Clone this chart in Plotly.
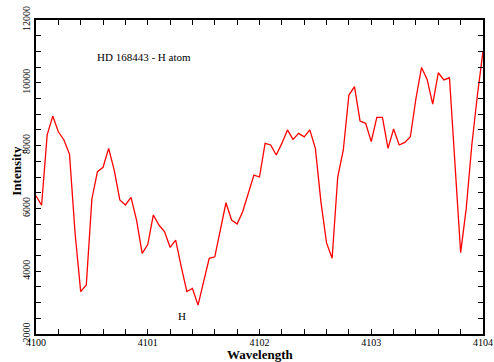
import plotly.graph_objects as go

wavelength = [
    4100.00, 4100.05, 4100.10, 4100.15, 4100.20, 4100.25, 4100.30, 4100.35, 4100.40, 4100.45,
    4100.50, 4100.55, 4100.60, 4100.65, 4100.70, 4100.75, 4100.80, 4100.85, 4100.90, 4100.95,
    4101.00, 4101.05, 4101.10, 4101.15, 4101.20, 4101.25, 4101.30, 4101.35, 4101.40, 4101.45,
    4101.50, 4101.55, 4101.60, 4101.65, 4101.70, 4101.75, 4101.80, 4101.85, 4101.90, 4101.95,
    4102.00, 4102.05, 4102.10, 4102.15, 4102.20, 4102.25, 4102.30, 4102.35, 4102.40, 4102.45,
    4102.50, 4102.55, 4102.60, 4102.65, 4102.70, 4102.75, 4102.80, 4102.85, 4102.90, 4102.95,
    4103.00, 4103.05, 4103.10, 4103.15, 4103.20, 4103.25, 4103.30, 4103.35, 4103.40, 4103.45,
    4103.50, 4103.55, 4103.60, 4103.65, 4103.70, 4103.75, 4103.80, 4103.85, 4103.90, 4103.95,
    4104.00,
]

intensity = [
    6400, 6100, 8340, 8940, 8440, 8180, 7720, 5200, 3350, 3560,
    6300, 7170, 7310, 7910, 7220, 6270, 6110, 6350, 5630, 4570,
    4850, 5790, 5470, 5260, 4760, 4990, 4140, 3350, 3450, 2920,
    3670, 4410, 4460, 5310, 6180, 5630, 5500, 5900, 6450, 7060,
    7000, 8070, 8020, 7700, 8070, 8500, 8200, 8390, 8280, 8500,
    7910, 6200, 4900, 4410, 7000, 7860, 9610, 9880, 8780, 8710,
    8125, 8900, 8900, 7910, 8530, 8020, 8100, 8280, 9500, 10490,
    10110, 9320, 10320, 10090, 10160, 7200, 4590, 6000, 8020, 9610,
    11000,
]

x_ticks = [4100, 4101, 4102, 4103, 4104]
x_tick_labels = ["4100", "4101", "4102", "4103", "4104"]
y_ticks = [2000, 4000, 6000, 8000, 10000, 12000]
y_tick_labels = ["2000", "4000", "6000", "8000", "10000", "12000"]

title_text = "HD 168443 - H atom"
line_label = "H"
line_label_pos = (4101.31, 2560)
title_pos = (4100.97, 10830)
x_title = "Wavelength"
y_title = "Intensity"

serif = "Liberation Serif, Times New Roman, serif"

fig = go.Figure()
fig.add_trace(go.Scatter(
    x=wavelength, y=intensity, mode="lines",
    line=dict(color="#ff0000", width=1.3),
    showlegend=False,
))

fig.add_annotation(x=title_pos[0], y=title_pos[1], text=title_text, showarrow=False,
                   font=dict(family=serif, size=11, color="black"))
fig.add_annotation(x=line_label_pos[0], y=line_label_pos[1], text=line_label, showarrow=False,
                   font=dict(family=serif, size=11, color="black"))

# axis titles placed precisely
fig.add_annotation(x=0.5, y=-0.066, xref="paper", yref="paper", text="<b>" + x_title + "</b>",
                   showarrow=False, xanchor="center", yanchor="middle",
                   font=dict(family=serif, size=13, color="black"))
fig.add_annotation(x=-0.0425, y=0.52, xref="paper", yref="paper", text="<b>" + y_title + "</b>",
                   showarrow=False, xanchor="center", yanchor="middle", textangle=-90,
                   font=dict(family=serif, size=13, color="black"))

axis_common = dict(
    showline=True, linecolor="black", linewidth=1.5, mirror="allticks",
    ticks="inside", ticklen=5, tickwidth=1, tickcolor="black",
    showgrid=False, zeroline=False, automargin=False,
    ticklabeloverflow="allow",
    tickfont=dict(family=serif, size=10, color="black"),
)

fig.update_xaxes(
    range=[4100, 4104], tickmode="array", tickvals=x_ticks, ticktext=x_tick_labels,
    ticklabelstandoff=-2,
    minor=dict(dtick=0.2, ticks="inside", ticklen=5, tickcolor="black", showgrid=False),
    **axis_common,
)
fig.update_yaxes(
    range=[2000, 12000], tickmode="array", tickvals=y_ticks, ticktext=y_tick_labels,
    tickangle=-90,
    minor=dict(dtick=500, ticks="inside", ticklen=5, tickcolor="black", showgrid=False),
    **axis_common,
)

fig.update_layout(
    width=494, height=362,
    margin=dict(l=36, r=11, t=20, b=28),
    plot_bgcolor="white", paper_bgcolor="white",
)

fig.write_html("out.html")
